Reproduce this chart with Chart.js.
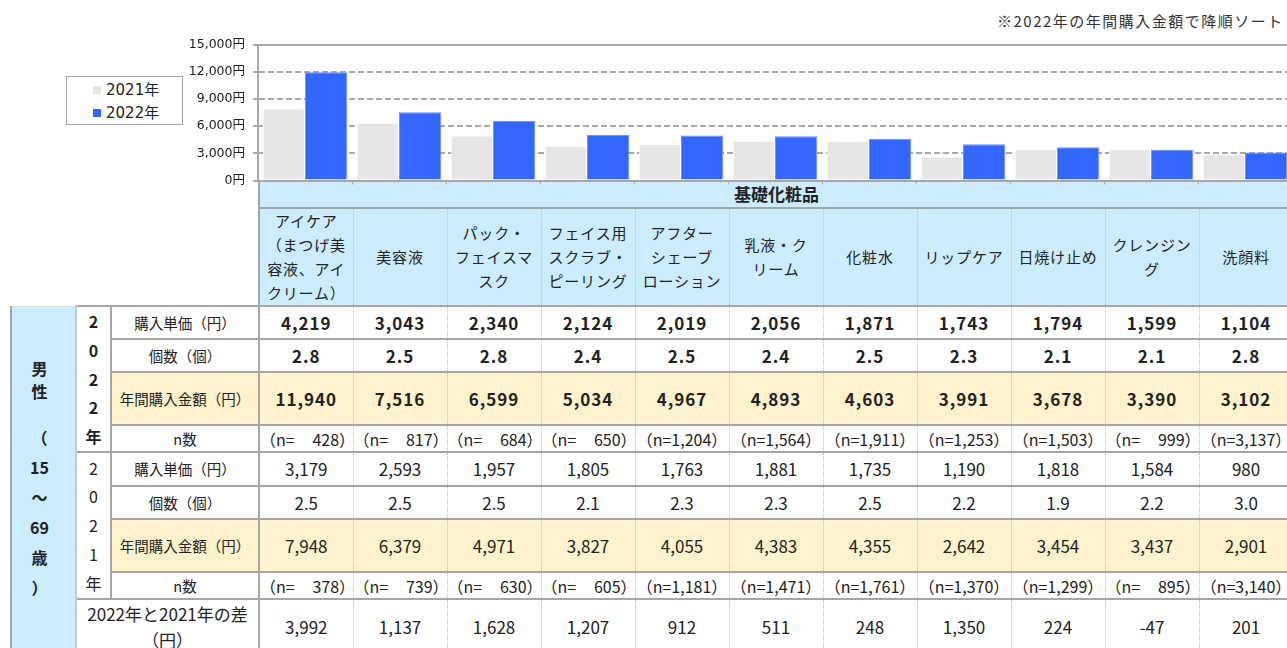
<!DOCTYPE html>
<html lang="ja">
<head>
  <meta charset="UTF-8" />
  <title>基礎化粧品 年間購入金額</title>
  <script src="https://cdn.jsdelivr.net/npm/chart.js"></script>
  <style>
    html, body { margin: 0; padding: 0; width: 1287px; height: 648px; overflow: hidden; background: #fff; }
    body { position: relative; font-family: "Noto Sans CJK JP", "Noto Sans", sans-serif; color: #222; }
    #note { position: absolute; left: 997px; top: 10px; font-size: 15px; letter-spacing: 1.5px; color: #333; white-space: nowrap; }
    #chartBox { position: absolute; left: 180px; top: 29px; width: 1112px; height: 167px; z-index: 2; }
    #legend { position: absolute; left: 66px; top: 76px; width: 115px; height: 47px; border: 1px solid #a6a6a6; background: #fff; z-index: 3;
              font-family: "DejaVu Sans", "Noto Sans CJK JP", sans-serif; font-size: 15px; }
    #legend div { position: absolute; left: 26px; height: 20px; line-height: 20px; white-space: nowrap; }
    #legend span { display: inline-block; width: 8px; height: 8px; margin-right: 5px; vertical-align: 1px; }

    table { position: absolute; left: 10px; top: 180px; border-collapse: collapse; table-layout: fixed; width: 1282px; z-index: 1; }
    td { padding: 0; text-align: center; vertical-align: middle; white-space: nowrap;
         border-top: 2px solid #a6a6a6; border-bottom: 2px solid #a6a6a6;
         border-left: 1px dotted #bdbdbd; border-right: 1px dotted #bdbdbd; }
    .blank { border: none; background: #fff; }
    .blu { background: #ccecff; }
    .yel { background: #fff2cc; }
    .grp { font-weight: bold; font-size: 17px; line-height: 24px; border-top: none; border-right: none; border-left: 2px solid #a6a6a6; }
    .cat { font-size: 15px; letter-spacing: 0.8px; line-height: 24px; }
    .first { border-left: 2px solid #a6a6a6; }
    .lab { font-size: 14.5px; line-height: 22px; border-left: 2px solid #a6a6a6; border-right: 2px solid #a6a6a6; }
    .yr { font-size: 16px; line-height: 28.8px; border-left: 2px solid #c8c8c8; border-right: 2px solid #a6a6a6; }
    .sex { background: #ccecff; font-weight: bold; font-size: 16px; vertical-align: top; padding: 50px 8px 0 0;
           border-left: 2px solid #a6a6a6; border-top: 1px solid #dddddd; border-bottom: none; border-right: 2px solid #c8c8c8; }
    .b { font-weight: bold; }
    .v { font-size: 17px; line-height: 22px; }
    .vb { font-size: 17px; line-height: 22px; font-weight: bold; letter-spacing: 1px; }
    .n { font-size: 16px; line-height: 22px; white-space: pre; }
  </style>
</head>
<body>

  <div id="note">※2022年の年間購入金額で降順ソート</div>
  <div id="legend"></div>
  <div id="chartBox"><canvas id="barChart"></canvas></div>
  <table id="tbl"></table>

  <script>
    // categories (line breaks as in the header cells)
    const categories = [
      'アイケア\n（まつげ美\n容液、アイ\nクリーム）', '美容液', 'パック・\nフェイスマ\nスク',
      'フェイス用\nスクラブ・\nピーリング', 'アフター\nシェーブ\nローション', '乳液・ク\nリーム',
      '化粧水', 'リップケア', '日焼け止め', 'クレンジン\nグ', '洗顔料'
    ];
    const seriesNames = ['2021年', '2022年'];
    const yTicks = [0, 3000, 6000, 9000, 12000, 15000];

    // 2022年
    const price2022 = [4219, 3043, 2340, 2124, 2019, 2056, 1871, 1743, 1794, 1599, 1104];
    const qty2022 = [2.8, 2.5, 2.8, 2.4, 2.5, 2.4, 2.5, 2.3, 2.1, 2.1, 2.8];
    const annual2022 = [11940, 7516, 6599, 5034, 4967, 4893, 4603, 3991, 3678, 3390, 3102];
    const n2022 = [428, 817, 684, 650, 1204, 1564, 1911, 1253, 1503, 999, 3137];

    // 2021年
    const price2021 = [3179, 2593, 1957, 1805, 1763, 1881, 1735, 1190, 1818, 1584, 980];
    const qty2021 = [2.5, 2.5, 2.5, 2.1, 2.3, 2.3, 2.5, 2.2, 1.9, 2.2, 3.0];
    const annual2021 = [7948, 6379, 4971, 3827, 4055, 4383, 4355, 2642, 3454, 3437, 2901];
    const n2021 = [378, 739, 630, 605, 1181, 1471, 1761, 1370, 1299, 895, 3140];

    // 2022年と2021年の差（円）
    const diffYen = [3992, 1137, 1628, 1207, 912, 511, 248, 1350, 224, -47, 201];

    const yen = v => v.toLocaleString('en-US');
    const dec = v => v.toFixed(1);
    const nfmt = v => '（n=' + yen(v).padStart(5, '\u2007') + '）';

    // Chart
    const gridColor = '#a8a8a8';
    const chart = new Chart(document.getElementById('barChart'), {
      type: 'bar',
      data: {
        labels: categories.map(c => c.replace(/\n/g, '')),
        datasets: [
          { label: seriesNames[0], data: annual2021, backgroundColor: '#e6e6e6', borderColor: '#ffffff', borderWidth: 1 },
          { label: seriesNames[1], data: annual2022, backgroundColor: '#3366ff', borderColor: '#6e8fff', borderWidth: 1 }
        ]
      },
      options: {
        responsive: true,
        maintainAspectRatio: false,
        animation: false,
        layout: { padding: { top: 8, left: 0, right: 0, bottom: 0 } },
        plugins: { legend: { display: false }, tooltip: { enabled: false } },
        datasets: { bar: { categoryPercentage: 0.9, barPercentage: 1.0 } },
        scales: {
          x: {
            ticks: { display: false },
            grid: { drawOnChartArea: false, tickLength: 4, color: gridColor, offset: true },
            border: { color: gridColor, width: 2 }
          },
          y: {
            min: 0,
            max: 15000,
            afterBuildTicks: s => { s.ticks = yTicks.map(v => ({ value: v })); },
            afterFit: s => { s.width = 78; },
            ticks: {
              callback: v => yen(v) + '円',
              color: '#222',
              padding: 8,
              font: { family: '"DejaVu Sans", "Noto Sans CJK JP", sans-serif', size: 12.5 }
            },
            grid: {
              color: gridColor,
              lineWidth: 2,
              tickLength: 5
            },
            border: {
              color: gridColor,
              width: 2,
              dash: ctx => (ctx.tick && ctx.tick.value > 0 && ctx.tick.value < 15000) ? [6, 3] : []
            }
          }
        }
      }
    });

    // legend from the chart datasets
    const legend = document.getElementById('legend');
    chart.data.datasets.forEach((ds, i) => {
      const item = document.createElement('div');
      item.style.top = (3 + i * 23) + 'px';
      item.innerHTML = `<span style="background:${ds.backgroundColor}"></span>${ds.label}`;
      legend.appendChild(item);
    });

    // table below the chart
    const cols = categories.length;
    let html = '<colgroup><col style="width:65px"><col style="width:35px"><col style="width:148px">'
      + categories.map(() => '<col style="width:94px">').join('') + '</colgroup>';

    html += `<tr style="height:28px"><td class="blank" colspan="3" rowspan="2"></td>`
      + `<td class="blu grp" colspan="${cols}">基礎化粧品</td></tr>`;
    html += '<tr style="height:98px">'
      + categories.map((c, i) => `<td class="blu cat${i === 0 ? ' first' : ''}">${c.replace(/\n/g, '<br>')}</td>`).join('')
      + '</tr>';

    function dataRow(h, prefix, label, vals, fmt, valCls, rowCls) {
      const rc = rowCls ? ' ' + rowCls : '';
      return `<tr style="height:${h}px">${prefix}<td class="lab${rc}">${label}</td>`
        + vals.map((v, i) => `<td class="${valCls}${rc}${i === 0 ? ' first' : ''}">${fmt(v)}</td>`).join('')
        + '</tr>';
    }

    const sexCell = '<td class="sex" rowspan="9">'
      + '<div style="line-height:23px">男<br>性</div>'
      + '<div style="line-height:30px;margin-top:19px">（<br>15<br>～<br>69<br>歳<br>）</div></td>';
    const yr22 = '<td class="yr b" rowspan="4">2<br>0<br>2<br>2<br>年</td>';
    const yr21 = '<td class="yr" rowspan="4">2<br>0<br>2<br>1<br>年</td>';

    html += dataRow(33, sexCell + yr22, '購入単価（円）', price2022, yen, 'vb');
    html += dataRow(33, '', '個数（個）', qty2022, dec, 'vb');
    html += dataRow(53, '', '年間購入金額（円）', annual2022, yen, 'vb', 'yel');
    html += dataRow(27, '', 'n数', n2022, nfmt, 'n');
    html += dataRow(34, yr21, '購入単価（円）', price2021, yen, 'v');
    html += dataRow(33, '', '個数（個）', qty2021, dec, 'v');
    html += dataRow(53, '', '年間購入金額（円）', annual2021, yen, 'v', 'yel');
    html += dataRow(27, '', 'n数', n2021, nfmt, 'n');
    html += '<tr style="height:56px"><td class="lab" colspan="2" style="font-size:17px;line-height:26px">2022年と2021年の差<br>（円）</td>'
      + diffYen.map((v, i) => `<td class="v${i === 0 ? ' first' : ''}">${yen(v)}</td>`).join('') + '</tr>';

    document.getElementById('tbl').innerHTML = html;
  </script>

</body>
</html>
